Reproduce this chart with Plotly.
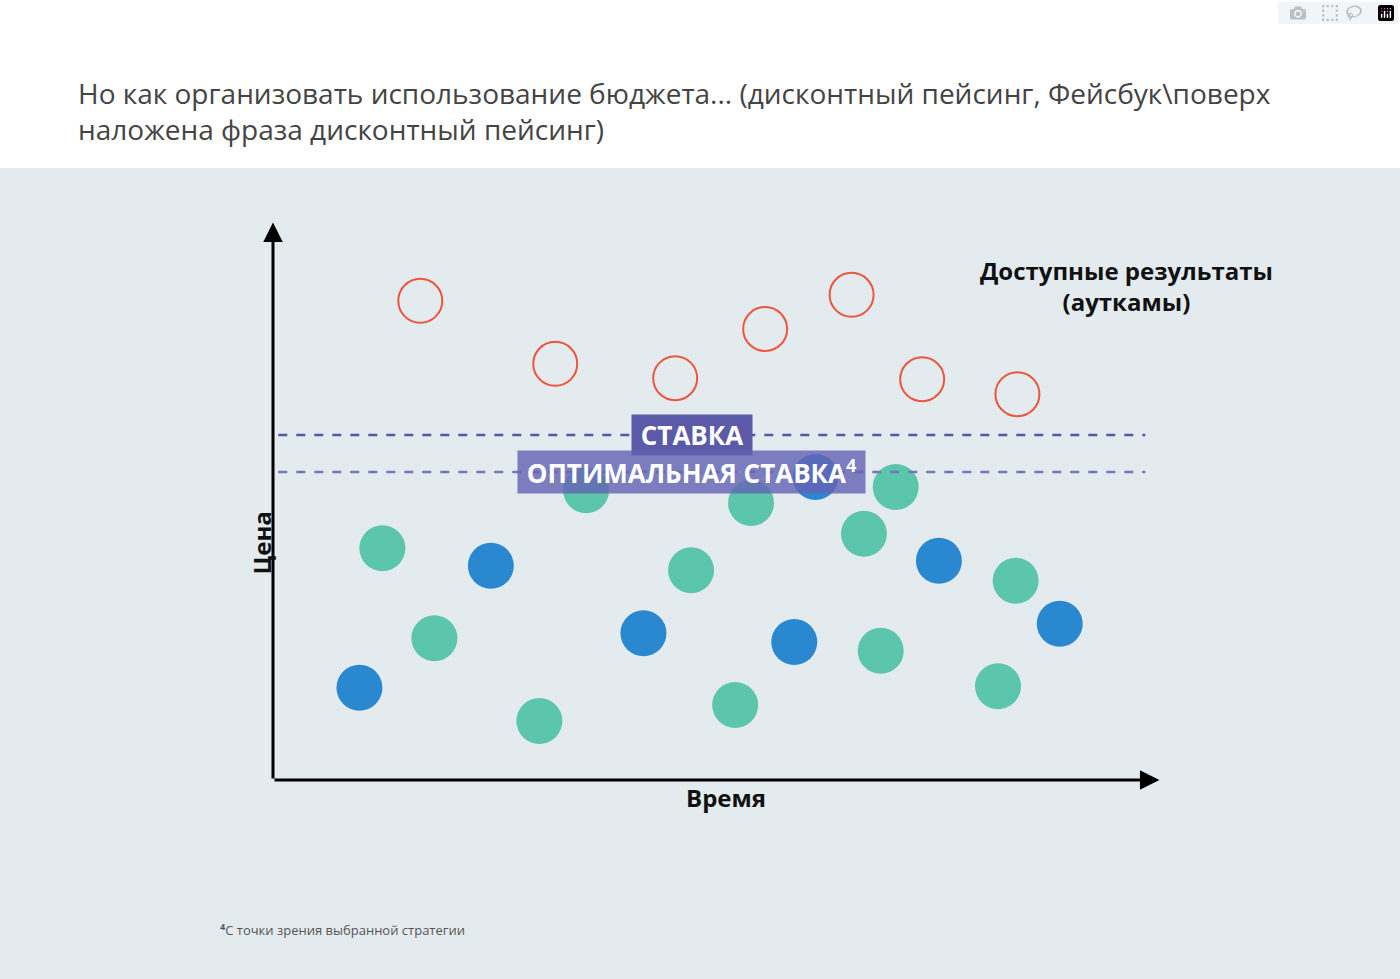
import plotly.graph_objects as go

# chart units: time 0..100 along x, price 0..100 along y
red_x = [16.7, 32.0, 45.6, 55.8, 65.6, 73.6, 84.4]
red_y = [86.8, 75.4, 72.8, 81.7, 87.9, 72.6, 69.9]
teal_x = [12.4, 18.3, 30.2, 35.5, 47.4, 52.4, 54.2, 67.0, 68.9, 70.6, 82.2, 84.2]
teal_y = [42.0, 25.7, 10.7, 52.5, 38.0, 13.6, 50.2, 44.6, 23.4, 53.1, 17.0, 36.1]
blue_x = [9.8, 24.7, 42.0, 59.1, 61.5, 75.5, 89.2]
blue_y = [16.7, 38.8, 26.6, 25.0, 54.9, 39.7, 28.3]
bid_level = 62.5
optimal_level = 55.8
line_start, line_end = 0.6, 98.9

FONT = "Open Sans"

fig = go.Figure()
fig.add_trace(go.Scatter(x=teal_x, y=teal_y, mode="markers",
                         marker=dict(size=46, color="#5cc6ac", line=dict(width=0))))
fig.add_trace(go.Scatter(x=blue_x, y=blue_y, mode="markers",
                         marker=dict(size=46, color="#2a88d0", line=dict(width=0))))
fig.add_trace(go.Scatter(x=red_x, y=red_y, mode="markers",
                         marker=dict(size=44, color="rgba(0,0,0,0)",
                                     line=dict(width=2, color="#ee553b"))))
for lvl, col in [(bid_level, "#5558aa"), (optimal_level, "#7376bd")]:
    fig.add_trace(go.Scatter(x=[line_start, line_end], y=[lvl, lvl], mode="lines",
                             line=dict(color=col, width=2.5, dash="dash")))

# top white band
fig.add_shape(type="rect", xref="paper", yref="paper", x0=-1, x1=2, y0=0.8284, y1=2,
              fillcolor="white", line_width=0, layer="below")

# axes arrows
fig.add_annotation(x=0, y=101, ax=0, ay=0, xref="x", yref="y", axref="x", ayref="y",
                   showarrow=True, arrowhead=2, arrowsize=1.3, arrowwidth=3,
                   arrowcolor="black", text="")
fig.add_annotation(x=100.5, y=0, ax=0, ay=0, xref="x", yref="y", axref="x", ayref="y",
                   showarrow=True, arrowhead=2, arrowsize=1.3, arrowwidth=3,
                   arrowcolor="black", text="")

fig.add_annotation(x=47.5, y=bid_level, text="<b> СТАВКА </b>", showarrow=False,
                   bgcolor="#5a5aa8", borderpad=2,
                   font=dict(family=FONT, size=26, color="white"))
fig.add_annotation(x=47.5, y=optimal_level, text="<b> ОПТИМАЛЬНАЯ СТАВКА<sup>4</sup> </b>",
                   showarrow=False, bgcolor="rgba(100,100,180,0.82)", borderpad=2,
                   font=dict(family=FONT, size=26, color="white"))
fig.add_annotation(x=96.8, y=89.5, text="<b>Доступные результаты<br>(ауткамы)</b>",
                   showarrow=False, align="center",
                   font=dict(family=FONT, size=24, color="#111"))
fig.add_annotation(xref="paper", yref="paper", x=242 / 1400, y=1 - 543 / 979,
                   text="<b>Цена</b>", textangle=-90, showarrow=False,
                   font=dict(family=FONT, size=24, color="#111"))
fig.add_annotation(xref="paper", yref="paper", x=726 / 1400, y=1 - 816 / 979,
                   text="<b>Время</b>", showarrow=False,
                   font=dict(family=FONT, size=24, color="#111"))

fig.add_annotation(xref="paper", yref="paper", x=76 / 1400, y=1 - 111 / 979, xanchor="left",
                   yanchor="middle", align="left", showarrow=False,
                   text="Но как организовать использование бюджета... (дисконтный пейсинг, Фейсбук\\поверх<br>наложена фраза дисконтный пейсинг)",
                   font=dict(family=FONT, size=28, color="#444"))
fig.add_annotation(xref="paper", yref="paper", x=218 / 1400, y=1 - 941 / 979, xanchor="left",
                   showarrow=False,
                   text="<sup><b>4</b></sup>С точки зрения выбранной стратегии",
                   font=dict(family=FONT, size=13, color="#555"))

fig.update_layout(
    width=1400, height=979, showlegend=False,
    paper_bgcolor="#e4ebef", plot_bgcolor="rgba(0,0,0,0)",
    margin=dict(l=0, r=0, t=0, b=0),
    xaxis=dict(range=[0, 100], domain=[273 / 1400, 1155 / 1400], visible=False, fixedrange=True),
    yaxis=dict(range=[0, 100], domain=[199 / 979, 751 / 979], visible=False, fixedrange=True),
)
fig.write_html("out.html", post_script="document.body.style.margin='0';")
